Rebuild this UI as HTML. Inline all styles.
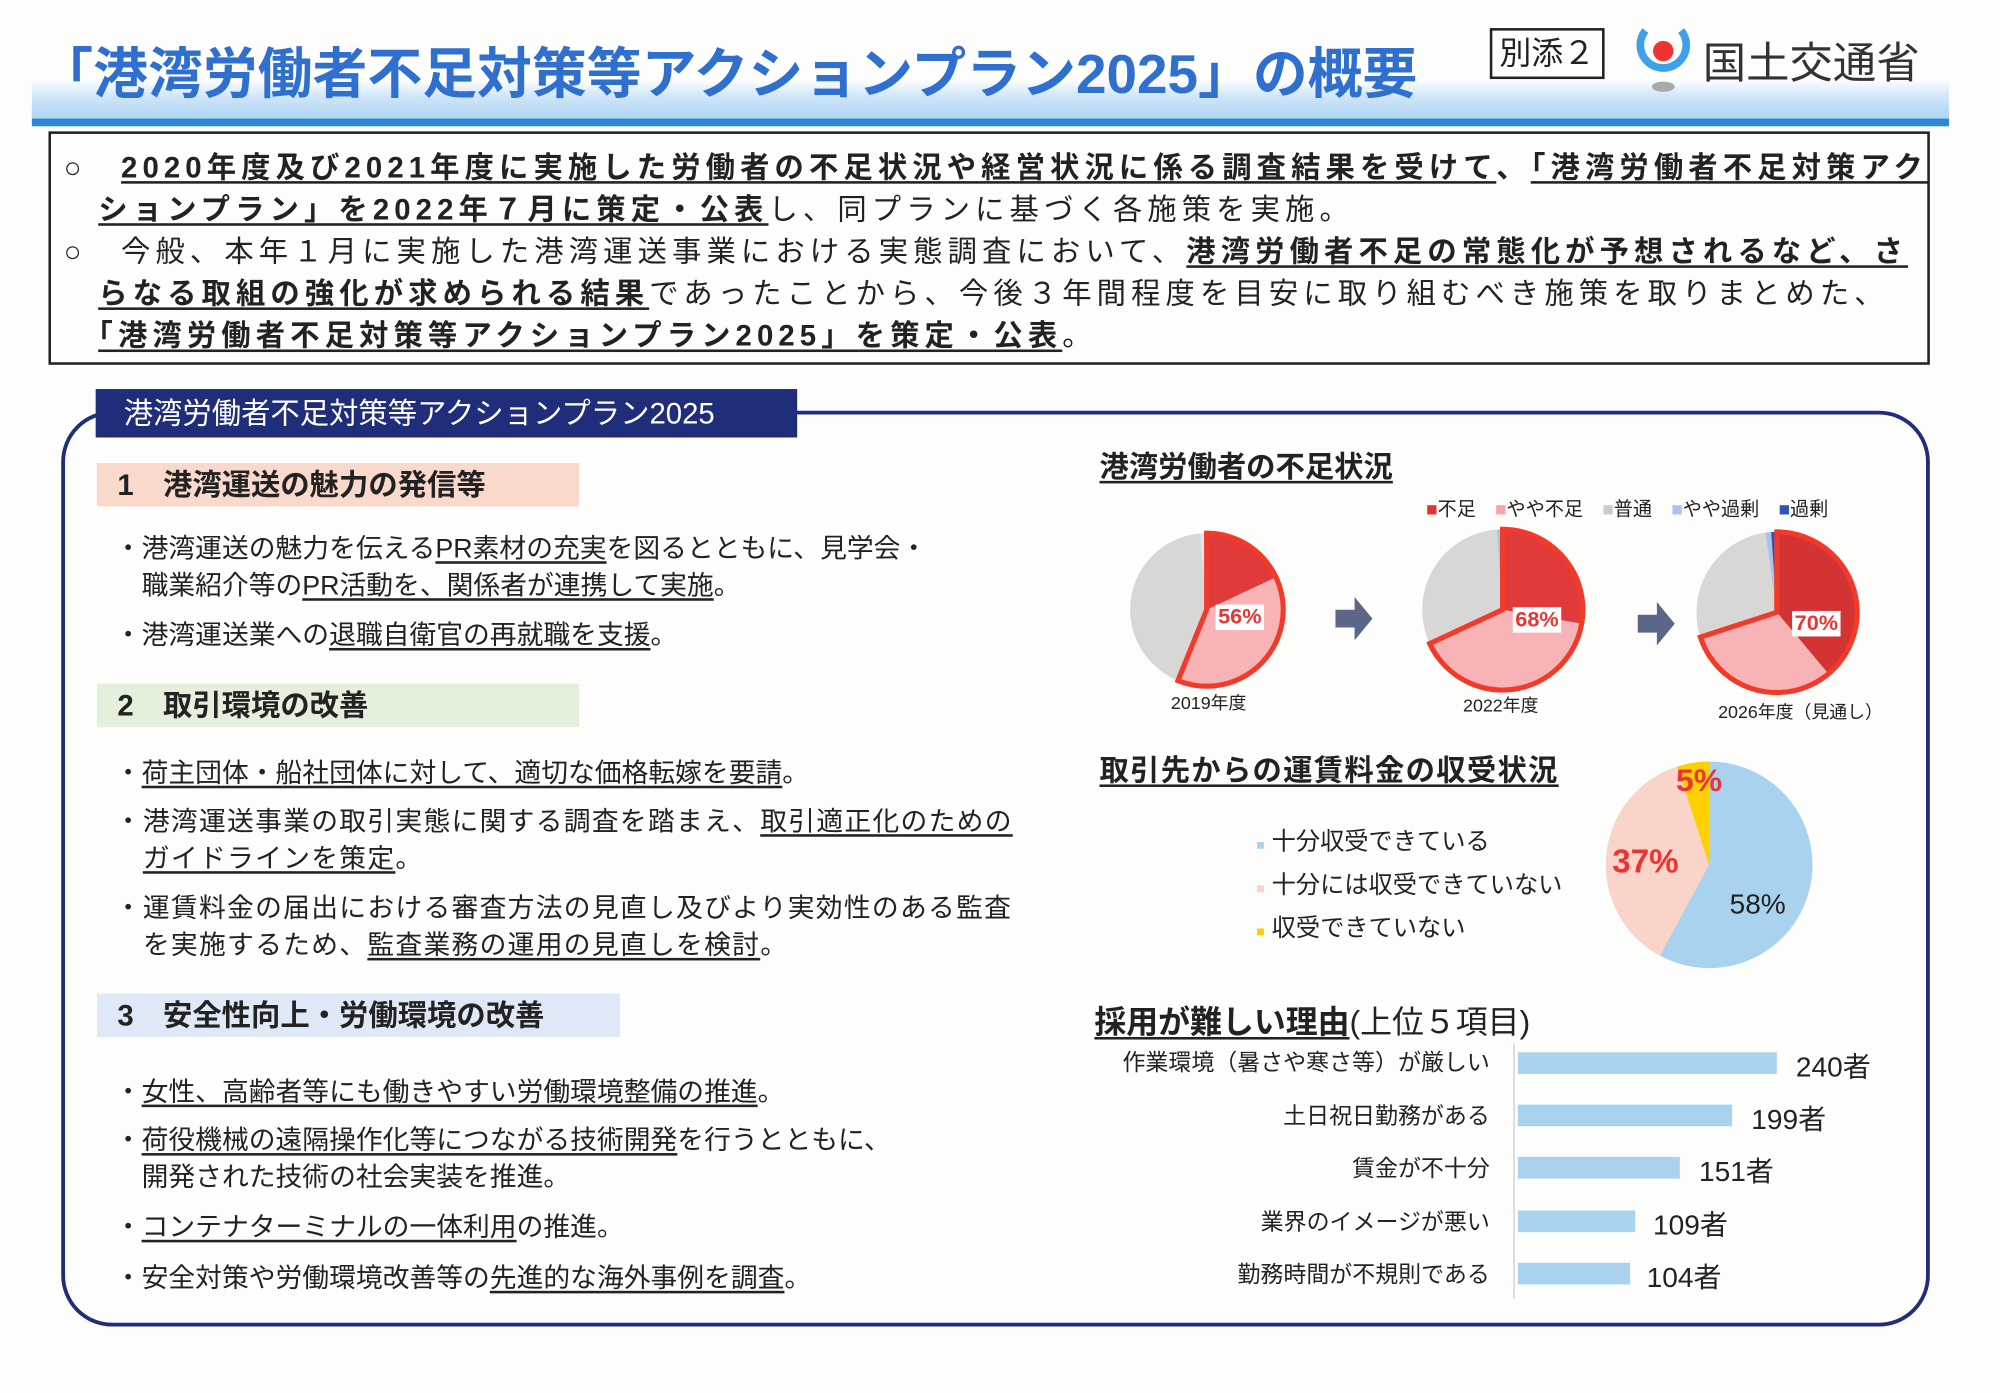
<!DOCTYPE html>
<html><head><meta charset="utf-8"><style>
*{margin:0;padding:0;box-sizing:border-box}
body{width:2000px;height:1393px;overflow:hidden;background:#fdfdfb}
#w{position:absolute;left:0;top:0;width:1568px;height:1092px;transform:scale(1.27551);transform-origin:0 0;font-family:"Liberation Sans","Noto Sans CJK JP",sans-serif;color:#222}
.a{position:absolute;white-space:nowrap}
u{text-decoration:underline;text-underline-offset:3px}
.b{font-weight:bold}
.t{font-size:21px;line-height:29px}
</style></head><body><div id="w">
<div class="a" style="left:25px;top:62px;width:1503px;height:34px;background:linear-gradient(#fff,#cfe6f8 40%,#a8d0f2)"></div>
<div class="a" style="left:25px;top:93px;width:1503px;height:6px;background:#2a86d6"></div>
<div class="a b" style="left:30px;top:24px;font-size:43px;color:#2f6fd0;letter-spacing:0px">「港湾労働者不足対策等アクションプラン2025」の概要</div>
<div class="a" style="left:1168px;top:22px;width:90px;height:40px;border:2px solid #222;font-size:25px;line-height:36px;text-align:center">別添２</div>
<svg class="a" style="left:1278px;top:18px" width="50" height="60"><path d="M12 6 A18 18 0 1 0 40 6" fill="none" stroke="#3da0e8" stroke-width="6"/><circle cx="26" cy="22" r="8" fill="#e33"/><ellipse cx="26" cy="50" rx="9" ry="4" fill="#aaa"/></svg>
<div class="a" style="left:1335px;top:22px;font-size:34px;color:#333">国土交通省</div>

<div class="a" style="left:38px;top:103px;width:1475px;height:183px;border:2px solid #222"></div>
<div class="a t" style="left:50px;top:115px;font-size:23px;line-height:33px;letter-spacing:4px">○　<b><u>2020年度及び2021年度に実施した労働者の不足状況や経営状況に係る調査結果を受けて</u>、<u>「港湾労働者不足対策アク</u></b><br>　<b><u>ションプラン」を2022年７月に策定・公表</u></b>し、同プランに基づく各施策を実施。<br>○　今般、本年１月に実施した港湾運送事業における実態調査において、<b><u>港湾労働者不足の常態化が予想されるなど、さ</u></b><br>　<b><u>らなる取組の強化が求められる結果</u></b>であったことから、今後３年間程度を目安に取り組むべき施策を取りまとめた、<br>　<b><u>「港湾労働者不足対策等アクションプラン2025」を策定・公表</u></b>。</div>

<div class="a" style="left:48px;top:322px;width:1465px;height:718px;border:3px solid #1f2d7a;border-radius:40px"></div>
<div class="a" style="left:75px;top:305px;width:550px;height:38px;background:#1f2d7a;color:#fff;font-size:23px;line-height:38px;padding-left:22px">港湾労働者不足対策等アクションプラン2025</div>

<div class="a b" style="left:76px;top:363px;width:378px;height:34px;background:#f9d9cc;font-size:23px;line-height:34px;padding-left:16px">1　港湾運送の魅力の発信等</div>
<div class="a t" style="left:90px;top:416px">・港湾運送の魅力を伝える<u>PR素材の充実</u>を図るとともに、見学会・<br>　職業紹介等の<u>PR活動を、関係者が連携して実施</u>。</div>
<div class="a t" style="left:90px;top:484px">・港湾運送業への<u>退職自衛官の再就職を支援</u>。</div>
<div class="a b" style="left:76px;top:536px;width:378px;height:34px;background:#e4f0dc;font-size:23px;line-height:34px;padding-left:16px">2　取引環境の改善</div>
<div class="a t" style="left:90px;top:592px">・<u>荷主団体・船社団体に対して、適切な価格転嫁を要請</u>。</div>
<div class="a t" style="left:90px;top:630px;letter-spacing:1px">・港湾運送事業の取引実態に関する調査を踏まえ、<u>取引適正化のための</u><br>　<u>ガイドラインを策定</u>。</div>
<div class="a t" style="left:90px;top:698px;letter-spacing:1px">・運賃料金の届出における審査方法の見直し及びより実効性のある監査<br>　を実施するため、<u>監査業務の運用の見直しを検討</u>。</div>
<div class="a b" style="left:76px;top:779px;width:410px;height:34px;background:#dfe8f6;font-size:23px;line-height:34px;padding-left:16px">3　安全性向上・労働環境の改善</div>
<div class="a t" style="left:90px;top:842px">・<u>女性、高齢者等にも働きやすい労働環境整備の推進</u>。</div>
<div class="a t" style="left:90px;top:880px">・<u>荷役機械の遠隔操作化等につながる技術開発</u>を行うとともに、<br>　開発された技術の社会実装を推進。</div>
<div class="a t" style="left:90px;top:948px">・<u>コンテナターミナルの一体利用</u>の推進。</div>
<div class="a t" style="left:90px;top:988px">・安全対策や労働環境改善等の<u>先進的な海外事例を調査</u>。</div>

<div class="a b" style="left:862px;top:347px;font-size:23px"><u>港湾労働者の不足状況</u></div>
<div class="a" style="left:1118px;top:388px;font-size:15px"><span style="color:#d33">■</span>不足　<span style="color:#f4a6a8">■</span>やや不足　<span style="color:#ccc">■</span>普通　<span style="color:#a8c4ee">■</span>やや過剰　<span style="color:#2f54b5">■</span>過剰</div>
<svg class="a" style="left:0;top:0" width="1568" height="1092">
<g stroke="none">
<circle cx="946" cy="478" r="60" fill="#d9d7d6"/>
<path d="M946 478L946 418A60 60 0 0 1 1000.4 452.6Z" fill="#e03a3a"/>
<path d="M946 478L1000.4 452.6A60 60 0 0 1 923.5 533.6Z" fill="#f7b3b5"/>
<path d="M946 478L940.8 418.2A60 60 0 0 1 946 418Z" fill="#dfe7f6"/>
<path d="M946 478L946 418A60 60 0 1 1 923.5 533.6Z" fill="none" stroke="#f23a2a" stroke-width="4"/>
<circle cx="1178" cy="478" r="63" fill="#d9d7d6"/>
<path d="M1178 478L1178 415A63 63 0 0 1 1240 489Z" fill="#e03a3a"/>
<path d="M1178 478L1240 489A63 63 0 0 1 1120.9 504.6Z" fill="#f7b3b5"/>
<path d="M1178 478L1173.6 415.2A63 63 0 0 1 1178 415Z" fill="#a8c4ee"/>
<path d="M1178 478L1178 415A63 63 0 1 1 1120.9 504.6Z" fill="none" stroke="#f23a2a" stroke-width="4"/>
<circle cx="1393" cy="480" r="63" fill="#d9d7d6"/>
<path d="M1393 480L1393 417A63 63 0 0 1 1433.5 528.3Z" fill="#d43333"/>
<path d="M1393 480L1433.5 528.3A63 63 0 0 1 1333.1 499.5Z" fill="#f7b3b5"/>
<path d="M1393 480L1384.2 417.6A63 63 0 0 1 1388.6 417.2Z" fill="#a8c4ee"/>
<path d="M1393 480L1388.6 417.2A63 63 0 0 1 1393 417Z" fill="#2f54b5"/>
<path d="M1393 480L1393 417A63 63 0 1 1 1333.1 499.5Z" fill="none" stroke="#f23a2a" stroke-width="4"/>
<path d="M1047 478h15v-10l14 17-14 17v-10h-15z" fill="#5c6688"/>
<path d="M1284 482h15v-10l14 17-14 17v-10h-15z" fill="#5c6688"/>
<circle cx="1340" cy="678" r="81" fill="#a9d2ef"/>
<path d="M1340 678L1301.4 749.2A81 81 0 0 1 1315 601Z" fill="#fad4c8"/>
<path d="M1340 678L1315 601A81 81 0 0 1 1340 597Z" fill="#ffd000"/>
<line x1="1187" y1="818" x2="1187" y2="1018" stroke="#ccc"/>
<g fill="#a9d2ef"><rect x="1190" y="825" width="203" height="17"/><rect x="1190" y="866" width="168" height="17"/><rect x="1190" y="907" width="127" height="17"/><rect x="1190" y="949" width="92" height="17"/><rect x="1190" y="990" width="88" height="17"/></g>
</g></svg>
<div class="a b" style="left:953px;top:474px;font-size:17px;color:#e33;background:#fff;padding:0 2px">56%</div>
<div class="a b" style="left:1186px;top:476px;font-size:17px;color:#e33;background:#fff;padding:0 2px">68%</div>
<div class="a b" style="left:1405px;top:479px;font-size:17px;color:#e33;background:#fff;padding:0 2px">70%</div>
<div class="a" style="left:918px;top:541px;font-size:14px">2019年度</div>
<div class="a" style="left:1147px;top:543px;font-size:14px">2022年度</div>
<div class="a" style="left:1347px;top:548px;font-size:14px">2026年度（見通し）</div>

<div class="a b" style="left:862px;top:585px;font-size:23px;letter-spacing:1px"><u>取引先からの運賃料金の収受状況</u></div>
<div class="a" style="left:985px;top:645px;font-size:19px;line-height:32px"><span style="color:#a9d2ef;font-size:11px">■</span> 十分収受できている<br><span style="color:#fad4c8;font-size:11px">■</span> 十分には収受できていない<br><span style="color:#ffd000;font-size:11px">■</span> 収受できていない</div>
<div class="a b" style="left:1314px;top:598px;font-size:25px;color:#e33">5%</div>
<div class="a b" style="left:1264px;top:660px;font-size:26px;color:#e33">37%</div>
<div class="a" style="left:1356px;top:696px;font-size:22px;color:#222">58%</div>

<div class="a" style="left:858px;top:782px;font-size:25px"><b><u>採用が難しい理由</u></b>(上位５項目)</div>
<div class="a" style="right:400px;top:813px;font-size:18px;text-align:right;line-height:41.5px">作業環境（暑さや寒さ等）が厳しい<br>土日祝日勤務がある<br>賃金が不十分<br>業界のイメージが悪い<br>勤務時間が不規則である</div>
<div class="a" style="left:1408px;top:819px;font-size:22px">240者</div>
<div class="a" style="left:1373px;top:860px;font-size:22px">199者</div>
<div class="a" style="left:1332px;top:901px;font-size:22px">151者</div>
<div class="a" style="left:1296px;top:943px;font-size:22px">109者</div>
<div class="a" style="left:1291px;top:984px;font-size:22px">104者</div>
</div></body></html>
